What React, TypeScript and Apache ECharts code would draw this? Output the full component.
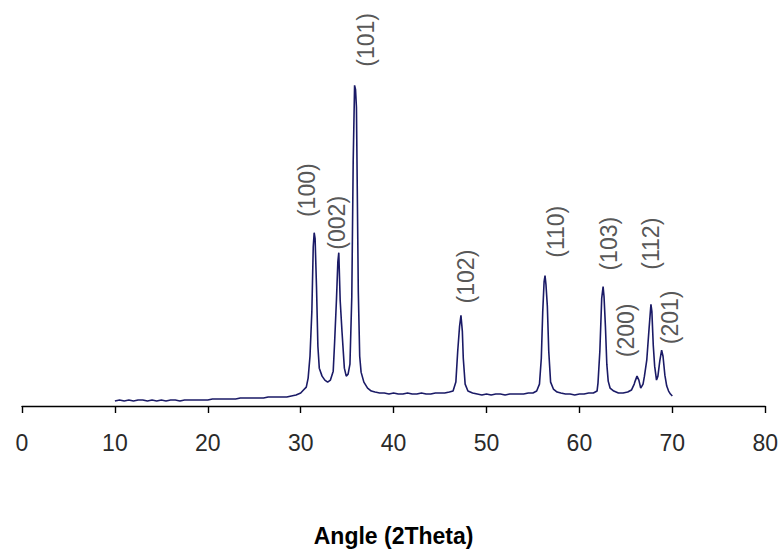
import React, { useEffect, useRef } from "react";
import * as echarts from "echarts";

const angles = [
  10.0, 10.5, 11.0, 11.5, 12.0, 12.5, 13.0, 13.5, 14.0, 14.5, 15.0, 15.5, 16.0, 16.5, 17.0, 17.5, 18.0, 18.5, 19.0, 19.5,
  20.0, 20.5, 21.0, 21.5, 22.0, 22.5, 23.0, 23.5, 24.0, 24.5, 25.0, 25.5, 26.0, 26.5, 27.0, 27.5, 28.0, 28.5, 29.0, 29.5,
  30.0, 30.3, 30.6, 30.8, 31.0, 31.2, 31.35, 31.45, 31.55, 31.7, 31.85, 32.0, 32.3, 32.6, 32.9, 33.2, 33.5,
  33.65, 33.85, 34.0, 34.1, 34.25, 34.45, 34.7, 34.9, 35.1, 35.3, 35.5, 35.65, 35.8, 35.9, 36.0, 36.2, 36.35, 36.5, 36.8,
  37.2, 37.6, 38.0, 38.5, 39.0, 39.5, 40.0, 40.5, 41.0, 41.5, 42.0, 42.5, 43.0, 43.5, 44.0, 44.5, 45.0, 45.5, 46.0, 46.4,
  46.7, 46.9, 47.1, 47.25, 47.4, 47.5, 47.7, 48.0, 48.5, 49.0, 49.5, 50.0, 50.5, 51.0, 51.5, 52.0, 52.5, 53.0, 53.5, 54.0,
  54.5, 55.0, 55.4, 55.7, 55.9, 56.05, 56.2, 56.3, 56.4, 56.55, 56.7, 56.9, 57.2, 57.6, 58.0, 58.5, 59.0, 59.5, 60.0, 60.5,
  61.0, 61.5, 61.9, 62.0, 62.2, 62.4, 62.55, 62.65, 62.8, 62.95, 63.1, 63.3, 63.7, 64.2, 64.7, 65.2, 65.6, 65.9,
  66.0, 66.2, 66.4, 66.6, 66.85, 67.0, 67.25, 67.5, 67.7, 67.8, 67.95, 68.1, 68.3, 68.45, 68.65, 68.85, 69.0, 69.2, 69.4,
  69.6, 69.8, 70.0,
];

const intensity = [
  5, 6, 5, 6, 5, 6, 6, 5, 6, 5, 6, 5, 6, 6, 5, 6, 6, 6, 6, 6,
  6, 7, 7, 7, 7, 7, 7, 8, 8, 8, 8, 8, 8, 9, 9, 9, 9, 9, 10, 11,
  13, 16, 19, 28, 50, 95, 160, 174, 168, 120, 60, 38, 30, 26, 24, 26, 35,
  64, 107, 145, 154, 106, 74, 38, 30, 32, 42, 110, 245, 322, 318, 300, 115, 50, 34, 24,
  18, 15, 14, 13, 13, 12, 13, 12, 12, 13, 12, 12, 13, 12, 12, 13, 13, 13, 14, 15,
  24, 55, 80, 91, 75, 48, 22, 15, 13, 12, 11, 12, 11, 12, 12, 11, 12, 12, 12, 12,
  13, 13, 15, 22, 48, 94, 125, 131, 122, 100, 55, 24, 17, 14, 13, 12, 12, 11, 12, 12,
  13, 13, 15, 23, 55, 108, 120, 110, 80, 42, 25, 18, 15, 13, 13, 14, 16, 22,
  25, 30, 26, 18, 22, 30, 46, 78, 102, 95, 61, 40, 26, 30, 45, 56, 50, 31, 20,
  15, 12, 10,
];

const peakNames = ["(100)", "(002)", "(101)", "(102)", "(110)", "(103)", "(200)", "(112)", "(201)"];
const peakLabelAngles = [30.72, 33.94, 37.05, 47.78, 57.5, 63.23, 65.05, 67.74, 69.8];
const peakLabelHeights = [216.7, 184, 367.7, 130, 175, 163, 76, 163, 89];

const xTicks = [0, 10, 20, 30, 40, 50, 60, 70, 80];

export default function App() {
  const ref = useRef<HTMLDivElement>(null);
  useEffect(() => {
    if (!ref.current) return;
    const chart = echarts.init(ref.current, null, { renderer: "svg" });
    chart.setOption({
      animation: false,
      backgroundColor: "#ffffff",
      grid: { left: 22, right: 13.3, top: 7.7, bottom: 144.3, containLabel: false },
      xAxis: {
        type: "value",
        min: xTicks[0],
        max: xTicks[xTicks.length - 1],
        interval: 10,
        splitLine: { show: false },
        axisLine: { show: true, lineStyle: { color: "#000", width: 1.4 } },
        axisTick: { show: true, length: 7, lineStyle: { color: "#000", width: 1.4 } },
        axisLabel: {
          margin: 25,
          color: "#2a2a2a",
          fontSize: 23,
          fontFamily: "'Liberation Sans', Arial, sans-serif",
        },
        name: "Angle (2Theta)",
        nameLocation: "middle",
        nameGap: 118,
        nameTextStyle: {
          fontSize: 23,
          fontWeight: "bold",
          color: "#000",
          fontFamily: "'Liberation Sans', Arial, sans-serif",
          verticalAlign: "top",
          lineHeight: 23,
        },
      },
      yAxis: {
        type: "value",
        min: 0,
        max: 400,
        show: false,
      },
      series: [
        {
          type: "line",
          data: angles.map((a, i) => [a, intensity[i]]),
          showSymbol: false,
          symbol: "none",
          lineStyle: { color: "#1a1a66", width: 1.6 },
        },
        {
          type: "scatter",
          symbolSize: 0,
          data: peakNames.map((n, i) => ({ name: n, value: [peakLabelAngles[i], peakLabelHeights[i]] })),
          label: {
            show: true,
            position: "inside",
            rotate: 90,
            formatter: (p: any) => p.name,
            color: "#2a2a2a",
            fontSize: 23,
            fontFamily: "'Liberation Sans', Arial, sans-serif",
          },
        },
      ],
    });
    return () => chart.dispose();
  }, []);
  return <div ref={ref} style={{ width: 781, height: 552, position: "absolute", left: 0, top: 0 }} />;
}
